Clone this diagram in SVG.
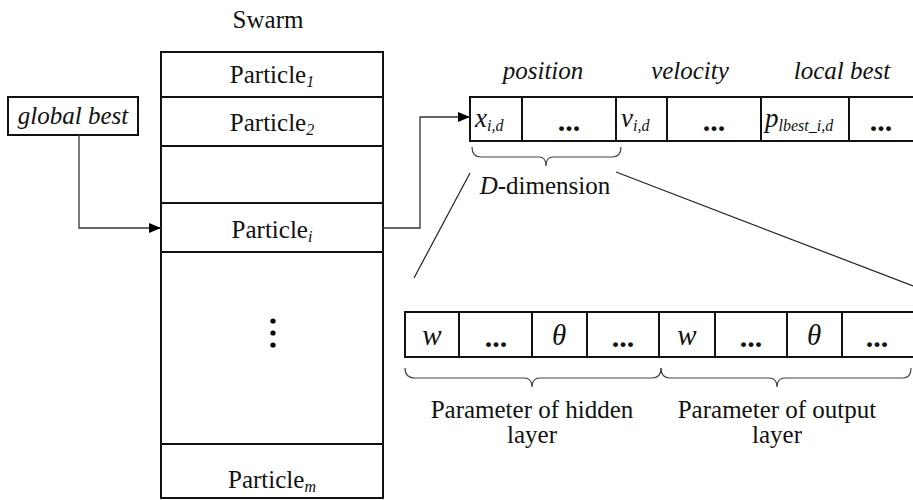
<svg xmlns="http://www.w3.org/2000/svg" width="913" height="500" viewBox="0 0 913 500" font-family="'Liberation Serif', 'Times New Roman', serif">
<defs>
<marker id="arr" markerWidth="12" markerHeight="10" refX="12" refY="5" orient="auto" markerUnits="userSpaceOnUse">
<path d="M0,0 L12,5 L0,10 Z" fill="#000"/>
</marker>
<style>
.box{fill:#fff;stroke:#111;stroke-width:2}
.ln{fill:none;stroke:#111;stroke-width:2}
.con{fill:none;stroke:#333;stroke-width:1.3}
.thin{fill:none;stroke:#222;stroke-width:1.2}
.brace{fill:none;stroke:#444;stroke-width:1.2}
text{font-family:'Liberation Serif','Times New Roman',serif;font-size:25px;fill:#111}
.it{font-style:italic}
.c{text-anchor:middle}
.sub{font-size:16px;font-style:italic}
.big{font-size:29px;font-style:italic}
.var{font-size:27px;font-style:italic}
.dots{font-weight:bold;font-size:30px}
</style>
</defs>
<rect width="913" height="500" fill="#fff"/>

<text class="c" x="268" y="28">Swarm</text>

<g id="swarm">
<rect class="box" x="161" y="52" width="222" height="446"/>
<line class="ln" x1="161" y1="97" x2="383" y2="97"/>
<line class="ln" x1="161" y1="146" x2="383" y2="146"/>
<line class="ln" x1="161" y1="203" x2="383" y2="203"/>
<line class="ln" x1="161" y1="252" x2="383" y2="252"/>
<line class="ln" x1="161" y1="444" x2="383" y2="444"/>
<text class="c" x="272" y="83">Particle<tspan class="sub" dy="4">1</tspan></text>
<text class="c" x="272" y="131">Particle<tspan class="sub" dy="4" font-style="normal">2</tspan></text>
<text class="c" x="272" y="238">Particle<tspan class="sub" dy="4">i</tspan></text>
<circle cx="273" cy="321" r="2.6" fill="#000"/>
<circle cx="273" cy="333" r="2.6" fill="#000"/>
<circle cx="273" cy="345" r="2.6" fill="#000"/>
<text class="c" x="272" y="488">Particle<tspan class="sub" dy="4">m</tspan></text>
</g>

<g id="global-best">
<rect class="box" x="8" y="97" width="130" height="38"/>
<text class="c it" x="73" y="124">global best</text>
</g>

<g id="particle-vector">
<text class="c it" x="543" y="79">position</text>
<text class="c it" x="690" y="79">velocity</text>
<text class="c it" x="842" y="79">local best</text>
<path class="ln" d="M913,97 H470 V141 H913"/>
<line class="ln" x1="522" y1="97" x2="522" y2="141"/>
<line class="ln" x1="616" y1="97" x2="616" y2="141"/>
<line class="ln" x1="667" y1="97" x2="667" y2="141"/>
<line class="ln" x1="761" y1="97" x2="761" y2="141"/>
<line class="ln" x1="849" y1="97" x2="849" y2="141"/>
<text class="var" x="475" y="127">x<tspan class="sub" dy="4">i,d</tspan></text>
<text class="c dots" x="569" y="131">...</text>
<text class="var" x="621" y="127">v<tspan class="sub" dy="4">i,d</tspan></text>
<text class="c dots" x="714" y="131">...</text>
<text class="var" x="765" y="127">p<tspan class="sub" dy="4">lbest_i,d</tspan></text>
<text class="c dots" x="881" y="131">...</text>
<path class="brace" d="M472,147 Q472,157 481,157 L539,157 Q546,157 546,166 Q546,157 553,157 L612,157 Q621,157 621,147"/>
<text class="c" x="545" y="194"><tspan class="it">D</tspan>-dimension</text>
</g>

<g id="network-params">
<path class="ln" d="M913,312 H405 V357 H913"/>
<line class="ln" x1="459" y1="312" x2="459" y2="357"/>
<line class="ln" x1="532" y1="312" x2="532" y2="357"/>
<line class="ln" x1="587" y1="312" x2="587" y2="357"/>
<line class="ln" x1="659" y1="312" x2="659" y2="357"/>
<line class="ln" x1="715" y1="312" x2="715" y2="357"/>
<line class="ln" x1="787" y1="312" x2="787" y2="357"/>
<line class="ln" x1="842" y1="312" x2="842" y2="357"/>
<text class="c big" x="432" y="345">w</text>
<text class="c dots" x="496" y="347">...</text>
<text class="c big" x="559" y="345">θ</text>
<text class="c dots" x="623" y="347">...</text>
<text class="c big" x="687" y="345">w</text>
<text class="c dots" x="751" y="347">...</text>
<text class="c big" x="814" y="345">θ</text>
<text class="c dots" x="877" y="347">...</text>
<path class="brace" d="M405,368 Q405,378 415,378 L524,378 Q532,378 532,387 Q532,378 540,378 L652,378 Q661,378 661,368"/>
<path class="brace" d="M661,368 Q661,378 670,378 L769,378 Q777,378 777,387 Q777,378 785,378 L903,378 Q911,378 911,368"/>
<text class="c" x="532" y="418">Parameter of hidden</text>
<text class="c" x="532" y="443">layer</text>
<text class="c" x="777" y="418">Parameter of output</text>
<text class="c" x="777" y="443">layer</text>
</g>

<g id="connectors">
<path class="con" d="M79,135 V228 H161" marker-end="url(#arr)"/>
<path class="con" d="M383,228 H420 V117 H470" marker-end="url(#arr)"/>
<line class="thin" x1="470" y1="173" x2="414" y2="278"/>
<line class="thin" x1="616" y1="172" x2="913" y2="286"/>
</g>
</svg>
